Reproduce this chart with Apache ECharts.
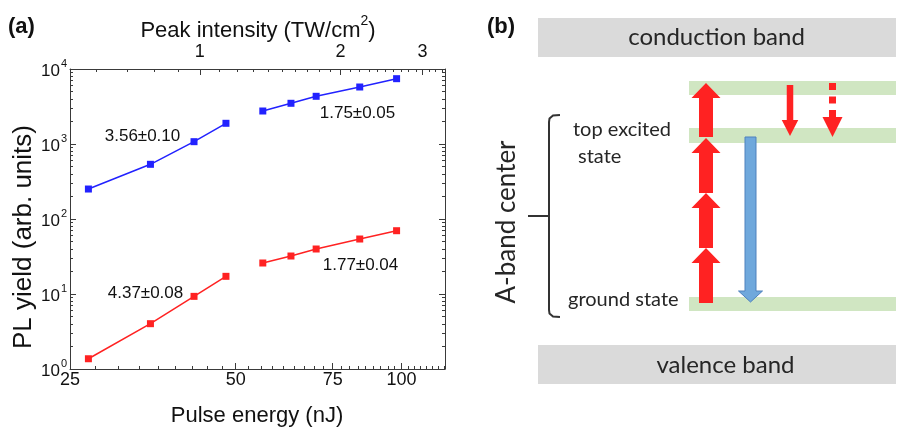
<!DOCTYPE html>
<html><head><meta charset="utf-8">
<script src="https://cdn.jsdelivr.net/npm/echarts@6/dist/echarts.min.js"></script>
<style>html,body{margin:0;padding:0;background:#fff}#c{width:904px;height:427px}</style>
</head><body><div id="c"></div>
<script>
// ---------- data (panel a) ----------
const pulseEnergyLow  = [27, 35, 42, 48];
const pulseEnergyHigh = [56, 63, 70, 84, 98];
const blueLow  = [251, 536, 1074, 1888];
const blueHigh = [2754, 3490, 4325, 5754, 7430];
const redLow   = [1.37, 4.02, 9.3, 17.2];
const redHigh  = [25.9, 32.1, 39.8, 54.1, 69.8];
const energyTicks    = [25, 50, 75, 100];
const intensityTicks = [1, 2, 3];
const yieldTicks     = [1, 10, 100, 1000, 10000];
const intensityMinor = [0.6, 0.7, 0.8, 0.9, 1.1, 1.2, 1.3, 1.4, 1.5, 1.6, 1.7, 1.8, 1.9,
                        2.1, 2.2, 2.3, 2.4, 2.5, 2.6, 2.7, 2.8, 2.9, 3.1, 3.2, 3.3];
const fitLabels = ['3.56±0.10', '1.75±0.05', '4.37±0.08', '1.77±0.04'];
const panelLabels = ['(a)', '(b)'];
const axisTitles = ['Pulse energy (nJ)', 'PL yield (arb. units)', 'Peak intensity (TW/cm', '2', ')'];
// ---------- text (panel b) ----------
const bandLabels  = ['conduction band', 'valence band'];
const stateLabels = ['top excited', 'state', 'ground state'];
const centerLabel = 'A-band center';

// minor tick values
const energyMinor = [];
[25, 50, 75, 100].forEach(a => { for (let k = 1; k <= 8; k++) { const v = a + 25 * k / 9; if (v < 120) energyMinor.push(v); } });
const yieldMinor = [];
[1, 10, 100, 1000].forEach(d => { for (let m = 2; m <= 9; m++) yieldMinor.push(m * d); });

const AX = '#3a3a3a';
const FONT = 'Liberation Sans, Arial, sans-serif';
const BFONT = 'Lato, Open Sans, sans-serif';
const RED = '#ff2222', BLUE = '#2222ff';

function logAxis(pos, min, max, major) {
  return {
    type: 'log', logBase: 10, position: pos, min: min, max: max,
    axisLine: { show: major, lineStyle: { color: AX, width: 1 } },
    axisTick: { show: true, inside: true, length: major ? 6 : 3, lineStyle: { color: AX, width: 1 } },
    axisLabel: { show: false },
    splitLine: { show: false }, minorTick: { show: false }, minorSplitLine: { show: false }
  };
}

const xAxes = [
  logAxis('bottom', 24.999, 120, true),
  logAxis('bottom', 24.999, 120, false),
  logAxis('top', 0.527, 3.35, true),
  logAxis('top', 0.527, 3.35, false)
];
xAxes[0].axisTick.customValues = energyTicks;
xAxes[0].axisLabel = { show: true, customValues: energyTicks, margin: 2, fontSize: 18, color: '#111', fontFamily: FONT,
  formatter: v => String(Math.round(v)) };
xAxes[1].axisTick.customValues = energyMinor;
xAxes[2].axisTick.customValues = intensityTicks;
xAxes[2].axisLabel = { show: true, customValues: intensityTicks, margin: 8, fontSize: 18, color: '#111', fontFamily: FONT,
  formatter: v => String(Math.round(v)) };
xAxes[3].axisTick.customValues = intensityMinor;

const yAxes = [
  logAxis('left', 1, 10000, true),
  logAxis('left', 1, 10000, false),
  logAxis('right', 1, 10000, true),
  logAxis('right', 1, 10000, false)
];
yAxes[0].axisTick.customValues = yieldTicks;
yAxes[0].axisLabel = { show: true, customValues: yieldTicks, margin: 3, color: '#111',
  formatter: v => '{b|10}{s|' + Math.round(Math.log10(v)) + '}',
  rich: {
    b: { fontSize: 17, fontFamily: FONT, color: '#111', padding: [4, 0, 0, 0], verticalAlign: 'bottom' },
    s: { fontSize: 11, fontFamily: FONT, color: '#111', verticalAlign: 'top', padding: [0, 0, 0, 1] }
  } };
yAxes[1].axisTick.customValues = yieldMinor;
yAxes[2].axisTick.customValues = yieldTicks;
yAxes[3].axisTick.customValues = yieldMinor;

function pairs(xs, ys) { return xs.map((x, i) => [x, ys[i]]); }
function lineSeries(name, xs, ys, color) {
  return { name: name, type: 'line', xAxisIndex: 0, yAxisIndex: 0, data: pairs(xs, ys),
    symbol: 'rect', symbolSize: 7, lineStyle: { color: color, width: 1.5 }, itemStyle: { color: color },
    animation: false, z: 3 };
}

// ---------- panel b helpers ----------
function upArrow(cx, bottom, tip, sw, hw, hh) {
  return [[cx - sw / 2, bottom], [cx + sw / 2, bottom], [cx + sw / 2, tip + hh], [cx + hw / 2, tip + hh],
          [cx, tip], [cx - hw / 2, tip + hh], [cx - sw / 2, tip + hh]];
}
function downArrow(cx, top, tip, sw, hw, hh) {
  return [[cx - sw / 2, top], [cx + sw / 2, top], [cx + sw / 2, tip - hh], [cx + hw / 2, tip - hh],
          [cx, tip], [cx - hw / 2, tip - hh], [cx - sw / 2, tip - hh]];
}
function txt(text, x, y, size, opts) {
  opts = opts || {};
  return Object.assign({ type: 'text', x: x, y: y, z: 10,
    style: Object.assign({ text: text, x: 0, y: 0, fontSize: size, fontFamily: opts.family || FONT,
      fontWeight: opts.weight || 'normal', fill: opts.color || '#111',
      align: opts.align || 'center', verticalAlign: 'middle',
      textAlign: opts.align || 'center', textVerticalAlign: 'middle' }, opts.style || {}) },
    opts.rotation ? { rotation: opts.rotation } : {});
}

const GRAY = '#dadada', GREEN = '#d0e6c2', DARK = '#262626';
const graphics = [
  // panel a texts
  txt(panelLabels[0], 8, 27, 22, { weight: 'bold', align: 'left' }),
  { type: 'text', x: 258, y: 28, style: { text: '{t|' + axisTitles[2] + '}{s|' + axisTitles[3] + '}{t|' + axisTitles[4] + '}',
      x: 0, y: 0, align: 'center', verticalAlign: 'middle', textAlign: 'center', textVerticalAlign: 'middle',
      rich: { t: { fontSize: 22, fontFamily: FONT, fill: '#111', color: '#111', padding: [5, 0, 0, 0], verticalAlign: 'bottom' },
              s: { fontSize: 14, fontFamily: FONT, fill: '#111', color: '#111', verticalAlign: 'top' } } } },
  txt(axisTitles[0], 257, 416, 22),
  txt(axisTitles[1], 24, 237, 26, { rotation: Math.PI / 2 }),
  txt(fitLabels[0], 142.5, 136.5, 17),
  txt(fitLabels[1], 357.5, 113.5, 17),
  txt(fitLabels[2], 145.5, 293.5, 17),
  txt(fitLabels[3], 360.5, 265, 17),
  // panel b
  txt(panelLabels[1], 487, 27, 22, { weight: 'bold', align: 'left' }),
  { type: 'rect', shape: { x: 538, y: 18, width: 358, height: 39 }, style: { fill: GRAY } },
  { type: 'rect', shape: { x: 538, y: 345, width: 358, height: 39 }, style: { fill: GRAY } },
  { type: 'rect', shape: { x: 689, y: 81, width: 207, height: 14 }, style: { fill: GREEN } },
  { type: 'rect', shape: { x: 689, y: 128, width: 207, height: 15 }, style: { fill: GREEN } },
  { type: 'rect', shape: { x: 689, y: 297, width: 207, height: 14 }, style: { fill: GREEN } },
  txt(bandLabels[0], 716.5, 37, 24, { family: BFONT, color: DARK }),
  txt(bandLabels[1], 725.5, 365, 24, { family: BFONT, color: DARK }),
  txt(stateLabels[0], 573, 130, 20, { family: BFONT, color: DARK, align: 'left' }),
  txt(stateLabels[1], 578, 157, 20, { family: BFONT, color: DARK, align: 'left' }),
  txt(stateLabels[2], 568, 300, 20, { family: BFONT, color: DARK, align: 'left' }),
  txt(centerLabel, 507, 222, 26, { family: BFONT, color: DARK, rotation: Math.PI / 2 }),
  { type: 'polyline', shape: { points: [[560, 115], [553, 115.5], [549.5, 118.5], [549, 122], [549, 310], [549.5, 313.5], [553, 316.5], [560, 317]] },
    style: { fill: null, stroke: '#333', lineWidth: 2 } },
  { type: 'line', shape: { x1: 528, y1: 216, x2: 549, y2: 216 }, style: { stroke: '#333', lineWidth: 2 } },
  { type: 'polygon', shape: { points: upArrow(706, 303, 248, 14, 29, 15) }, style: { fill: RED } },
  { type: 'polygon', shape: { points: upArrow(706, 248, 193, 14, 29, 15) }, style: { fill: RED } },
  { type: 'polygon', shape: { points: upArrow(706, 193, 138, 14, 29, 15) }, style: { fill: RED } },
  { type: 'polygon', shape: { points: upArrow(706, 137, 83, 14, 29, 15) }, style: { fill: RED } },
  { type: 'polygon', shape: { points: downArrow(750.5, 137, 302, 11, 24, 11) }, style: { fill: '#6fa8dc', stroke: '#4f81bd', lineWidth: 1 } },
  { type: 'polygon', shape: { points: downArrow(790, 85, 136, 6.5, 16.5, 16) }, style: { fill: RED } },
  { type: 'rect', shape: { x: 829, y: 83, width: 7, height: 7 }, style: { fill: RED } },
  { type: 'rect', shape: { x: 829, y: 96.5, width: 7, height: 7 }, style: { fill: RED } },
  { type: 'rect', shape: { x: 829, y: 110, width: 7, height: 8 }, style: { fill: RED } },
  { type: 'polygon', shape: { points: [[822.5, 117], [842.5, 117], [832.5, 137]] }, style: { fill: RED } }
];

const chart = echarts.init(document.getElementById('c'), null, { renderer: 'canvas' });
chart.setOption({
  animation: false,
  backgroundColor: '#fff',
  grid: { left: 70, right: 459, top: 69, bottom: 58, containLabel: false, outerBoundsMode: 'none' },
  xAxis: xAxes,
  yAxis: yAxes,
  series: [
    lineSeries('blue low', pulseEnergyLow, blueLow, BLUE),
    lineSeries('blue high', pulseEnergyHigh, blueHigh, BLUE),
    lineSeries('red low', pulseEnergyLow, redLow, RED),
    lineSeries('red high', pulseEnergyHigh, redHigh, RED)
  ],
  graphic: graphics
});
</script>
</body></html>
